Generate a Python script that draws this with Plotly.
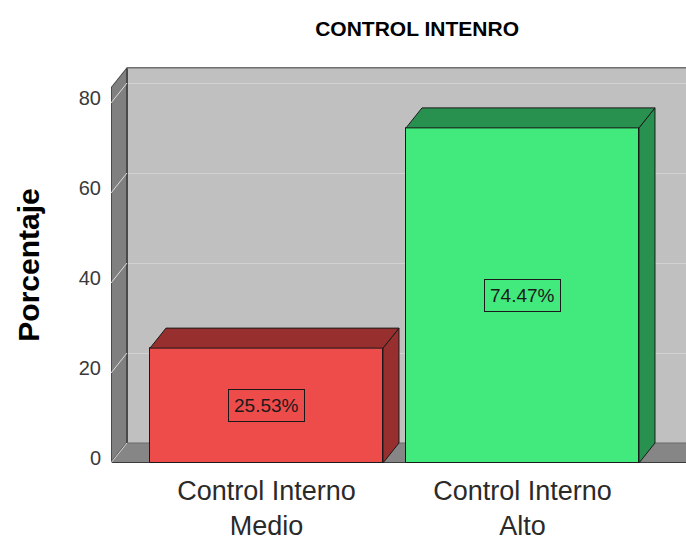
import plotly.graph_objects as go

# Chart data
categories = ["Control Interno<br>Medio", "Control Interno<br>Alto"]
percentages = [25.53, 74.47]
front_colors = ["#EE4B4B", "#42E97D"]
shade_colors = ["#982F2F", "#28914F"]
y_ticks = [0, 20, 40, 60, 80]

FONT = "Liberation Sans, Arial, sans-serif"

# Axis geometry (data units); depth offsets give the 3-D look
X0, X1 = -0.6074, 1.6387
Y_TOP = 88.0
DX, DY = 0.0625, 4.444
BAR_W = 0.91

pos = list(range(len(categories)))

fig = go.Figure()

# invisible anchor so the back-wall grid axis is drawn
fig.add_trace(go.Scatter(x=[X0], y=[0], yaxis="y2", mode="markers",
                         marker=dict(opacity=0), hoverinfo="skip", showlegend=False))

for i, v in enumerate(percentages):
    xl, xr = pos[i] - BAR_W / 2, pos[i] + BAR_W / 2
    # right side face
    fig.add_trace(go.Scatter(
        x=[xr, xr, xr + DX, xr + DX, xr], y=[0, v, v + DY, DY, 0],
        fill="toself", fillcolor=shade_colors[i], mode="lines",
        line=dict(color="#1a1a1a", width=1), hoverinfo="skip", showlegend=False))
    # top face
    fig.add_trace(go.Scatter(
        x=[xl, xr, xr + DX, xl + DX, xl], y=[v, v, v + DY, v + DY, v],
        fill="toself", fillcolor=shade_colors[i], mode="lines",
        line=dict(color="#1a1a1a", width=1), hoverinfo="skip", showlegend=False))

# front faces
fig.add_trace(go.Bar(
    x=pos, y=percentages, width=BAR_W,
    marker=dict(color=front_colors, line=dict(color="#1a1a1a", width=1)),
    showlegend=False, hoverinfo="skip"))

shapes = []
# left side wall
shapes.append(dict(type="path", xref="x", yref="y", layer="between",
                   path=f"M{X0},0 L{X0},{Y_TOP-DY} L{X0+DX},{Y_TOP} L{X0+DX},{DY} Z",
                   fillcolor="#808080", line=dict(color="#4a4a4a", width=2)))
# blank corner above the left wall
shapes.append(dict(type="path", xref="x", yref="y", layer="between",
                   path=f"M{X0},{Y_TOP-DY} L{X0},{Y_TOP+1} L{X0+DX},{Y_TOP+1} L{X0+DX},{Y_TOP} Z",
                   fillcolor="white", line=dict(width=0)))
# floor
shapes.append(dict(type="path", xref="x", yref="y", layer="between",
                   path=f"M{X0},0 L{X1},0 L{X1+DX},{DY} L{X0+DX},{DY} Z",
                   fillcolor="#868686", line=dict(color="#6a6a6a", width=1)))
# floor front edge
shapes.append(dict(type="line", xref="x", yref="y", layer="between",
                   x0=X0, x1=X1, y0=0, y1=0, line=dict(color="#3a3a3a", width=2)))
# back wall top edge
shapes.append(dict(type="line", xref="x", yref="y", layer="between",
                   x0=X0 + DX, x1=X1, y0=Y_TOP, y1=Y_TOP, line=dict(color="#707070", width=3)))
# grid lines running across the left wall
for t in y_ticks:
    shapes.append(dict(type="line", xref="x", yref="y", layer="between",
                       x0=X0, y0=t, x1=X0 + DX, y1=t + DY,
                       line=dict(color="#DCDCDC", width=1)))

# value labels in the middle of each bar
annotations = []
for i, v in enumerate(percentages):
    annotations.append(dict(
        x=pos[i], y=v / 2, xref="x", yref="y", text=f"{v:.2f}%", showarrow=False,
        font=dict(family=FONT, size=19, color="#1a1a1a"),
        bgcolor=front_colors[i], bordercolor="#1a1a1a", borderwidth=1, borderpad=5))

fig.update_layout(
    width=686, height=543,
    margin=dict(l=111, r=0, t=67, b=80),
    paper_bgcolor="white", plot_bgcolor="#C0C0C0",
    title=dict(text="<b>CONTROL INTENRO</b>", xref="container", yref="container",
               x=0.608, y=0.948, xanchor="center", yanchor="middle",
               font=dict(family=FONT, size=21, color="black")),
    xaxis=dict(range=[X0, X1], tickvals=pos, ticktext=categories,
               showgrid=False, zeroline=False, showline=False, ticks="",
               ticklabelstandoff=9,
               tickfont=dict(family=FONT, size=27, color="#2a2a2a"),
               fixedrange=True),
    yaxis=dict(range=[0, Y_TOP], tickvals=y_ticks, showgrid=False, zeroline=False,
               showline=False, ticks="", ticklabelstandoff=9, ticklabelshift=-5,
               tickfont=dict(family=FONT, size=20, color="#3a3a3a"),
               title=dict(text="<b>Porcentaje</b>", standoff=30,
                          font=dict(family=FONT, size=30, color="black"))),
    yaxis2=dict(overlaying="y", range=[-DY, Y_TOP - DY], tickvals=y_ticks,
                showgrid=True, gridcolor="#D2D2D2", gridwidth=1,
                showticklabels=False, zeroline=False, ticks=""),
    shapes=shapes,
    annotations=annotations,
    bargap=0,
)

fig.write_html("out.html")
